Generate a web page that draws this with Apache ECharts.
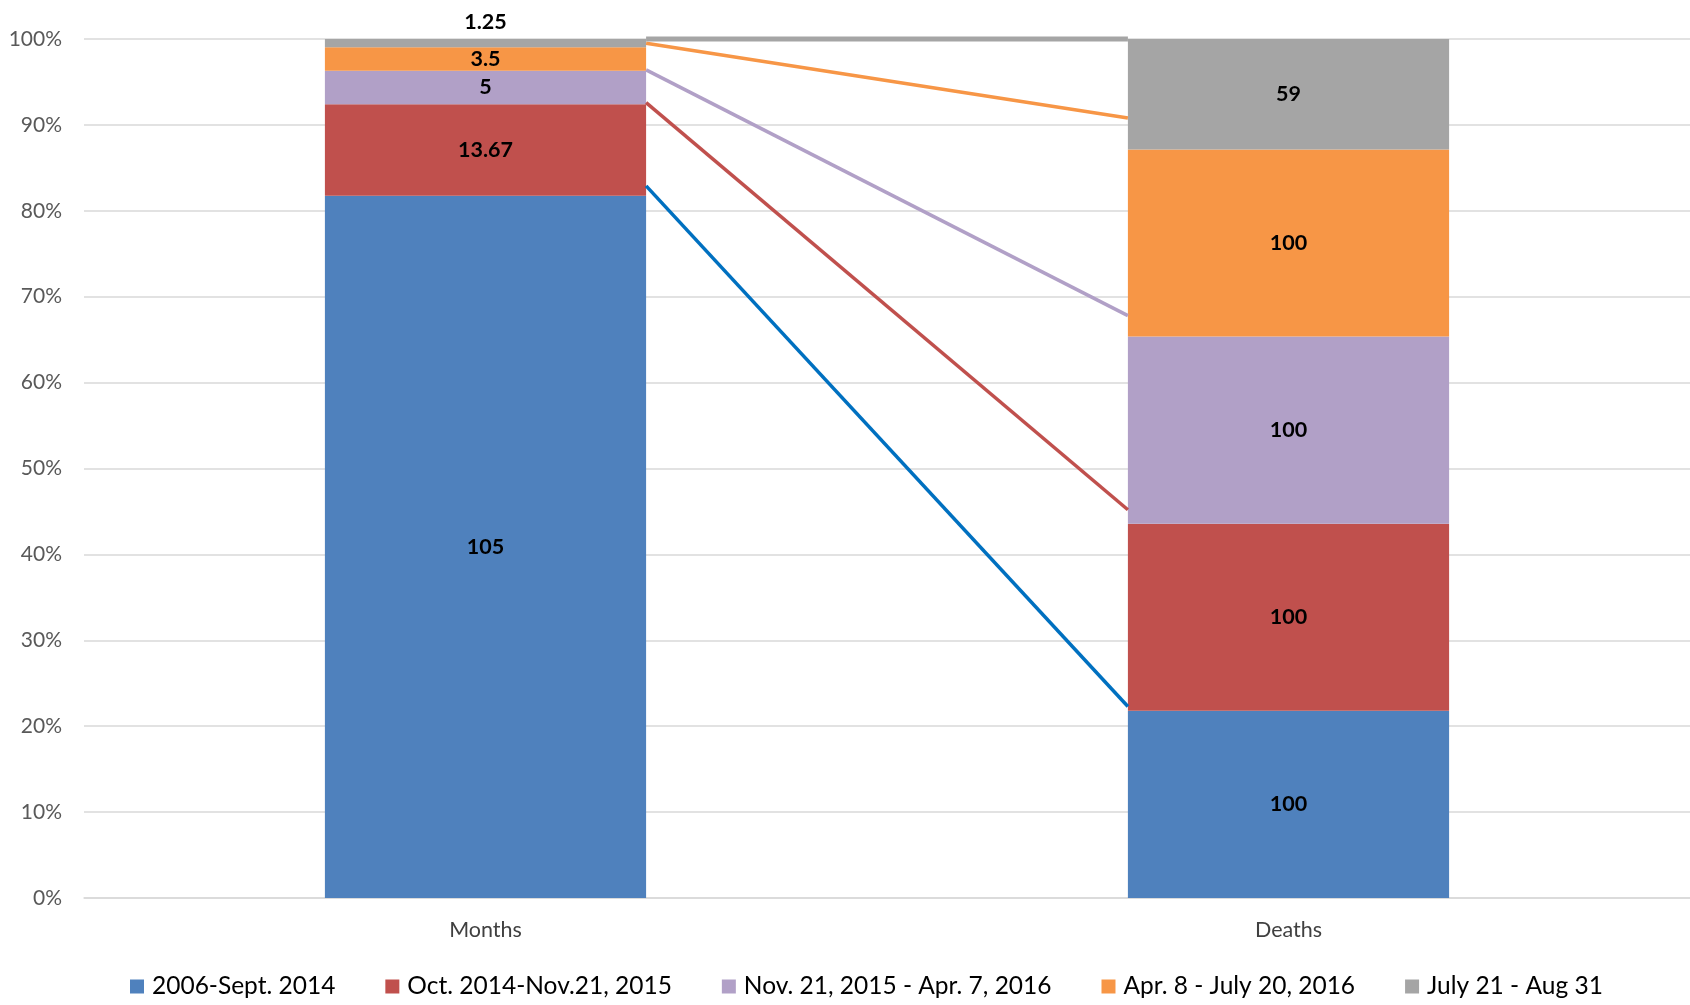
<!DOCTYPE html>
<html>
<head>
<meta charset="utf-8">
<script src="https://cdn.jsdelivr.net/npm/echarts@6/dist/echarts.min.js"></script>
<style>
html,body{margin:0;padding:0;background:#fff;}
#chart{width:1690px;height:1005px;}
</style>
</head>
<body>
<div id="chart"></div>
<script>
// ---- data ----
const categories = ['Months', 'Deaths'];
const seriesNames = ['2006-Sept. 2014', 'Oct. 2014-Nov.21, 2015', 'Nov. 21, 2015 - Apr. 7, 2016', 'Apr. 8 - July 20, 2016', 'July 21 - Aug 31'];
const monthsValues = [105, 13.67, 5, 3.5, 1.25];
const deathsValues = [100, 100, 100, 100, 59];
const yTicks = [0, 10, 20, 30, 40, 50, 60, 70, 80, 90, 100];
// connector lines between the bars (percent levels)
const connectorFrom = [82.9, 92.6, 96.4, 99.5, 100];
const connectorTo = [22.3, 45.2, 67.8, 90.8, 100];

// ---- styles ----
const barColors = ['#4F81BD', '#C0504D', '#B1A0C7', '#F79646', '#A5A5A5'];
const lineColors = ['#0070C0', '#C0504D', '#B1A0C7', '#F79646', '#A5A5A5'];
const lineWidths = [3.5, 3.5, 3.5, 3.5, 5];
const FONT = 'Lato';

const totals = [monthsValues, deathsValues].map(a => a.reduce((s, v) => s + v, 0));

const barSeries = seriesNames.map((name, i) => {
  const raws = [monthsValues[i], deathsValues[i]];
  return {
    name: name,
    type: 'bar',
    stack: 'total',
    barWidth: '40%',
    itemStyle: { color: barColors[i] },
    label: {
      show: true,
      position: 'inside',
      fontFamily: FONT,
      fontWeight: 'bold',
      fontSize: 21.5,
      color: '#000',
      formatter: p => String(p.data.raw)
    },
    emphasis: { disabled: true },
    data: raws.map((v, k) => {
      const item = { value: v / totals[k] * 100, raw: v };
      if (i === 4 && k === 0) item.label = { position: 'top', distance: 6 };
      return item;
    })
  };
});

const connectorData = connectorFrom.map((f, i) => [0, f, connectorTo[i], i]);

const connectorSeries = {
  type: 'custom',
  name: 'connectors',
  silent: true,
  z: 5,
  encode: { x: 0, y: [1, 2] },
  data: connectorData,
  renderItem: function (params, api) {
    const idx = api.value(3);
    const band = api.size([1, 0])[0];
    const half = band * 0.2;
    const p0 = api.coord([0, api.value(1)]);
    const p1 = api.coord([1, api.value(2)]);
    return {
      type: 'line',
      shape: { x1: p0[0] + half, y1: p0[1], x2: p1[0] - half, y2: p1[1] },
      style: { stroke: lineColors[idx], lineWidth: lineWidths[idx] }
    };
  }
};

const chart = echarts.init(document.getElementById('chart'));
chart.setOption({
  animation: false,
  backgroundColor: '#fff',
  textStyle: { fontFamily: FONT },
  grid: { left: 84, right: 0, top: 39, bottom: 107 },
  legend: {
    data: seriesNames,
    top: 969,
    left: 125,
    icon: 'rect',
    itemWidth: 14,
    itemHeight: 14,
    itemGap: 50,
    textStyle: { fontFamily: FONT, fontSize: 24.5, color: '#000', padding: [0, 0, 0, 3] }
  },
  xAxis: {
    type: 'category',
    data: categories,
    axisLine: { lineStyle: { color: '#D9D9D9', width: 1.5 } },
    axisTick: { show: false },
    axisLabel: { fontFamily: FONT, fontSize: 21.5, color: '#404040', margin: 21 }
  },
  yAxis: {
    type: 'value',
    min: yTicks[0],
    max: yTicks[yTicks.length - 1],
    interval: yTicks[1] - yTicks[0],
    axisLine: { show: false },
    axisTick: { show: false },
    axisLabel: { fontFamily: FONT, fontSize: 21, color: '#595959', margin: 22, formatter: '{value}%' },
    splitLine: { lineStyle: { color: '#D9D9D9', width: 1.5 } }
  },
  series: barSeries.concat([connectorSeries])
});
</script>
</body>
</html>
